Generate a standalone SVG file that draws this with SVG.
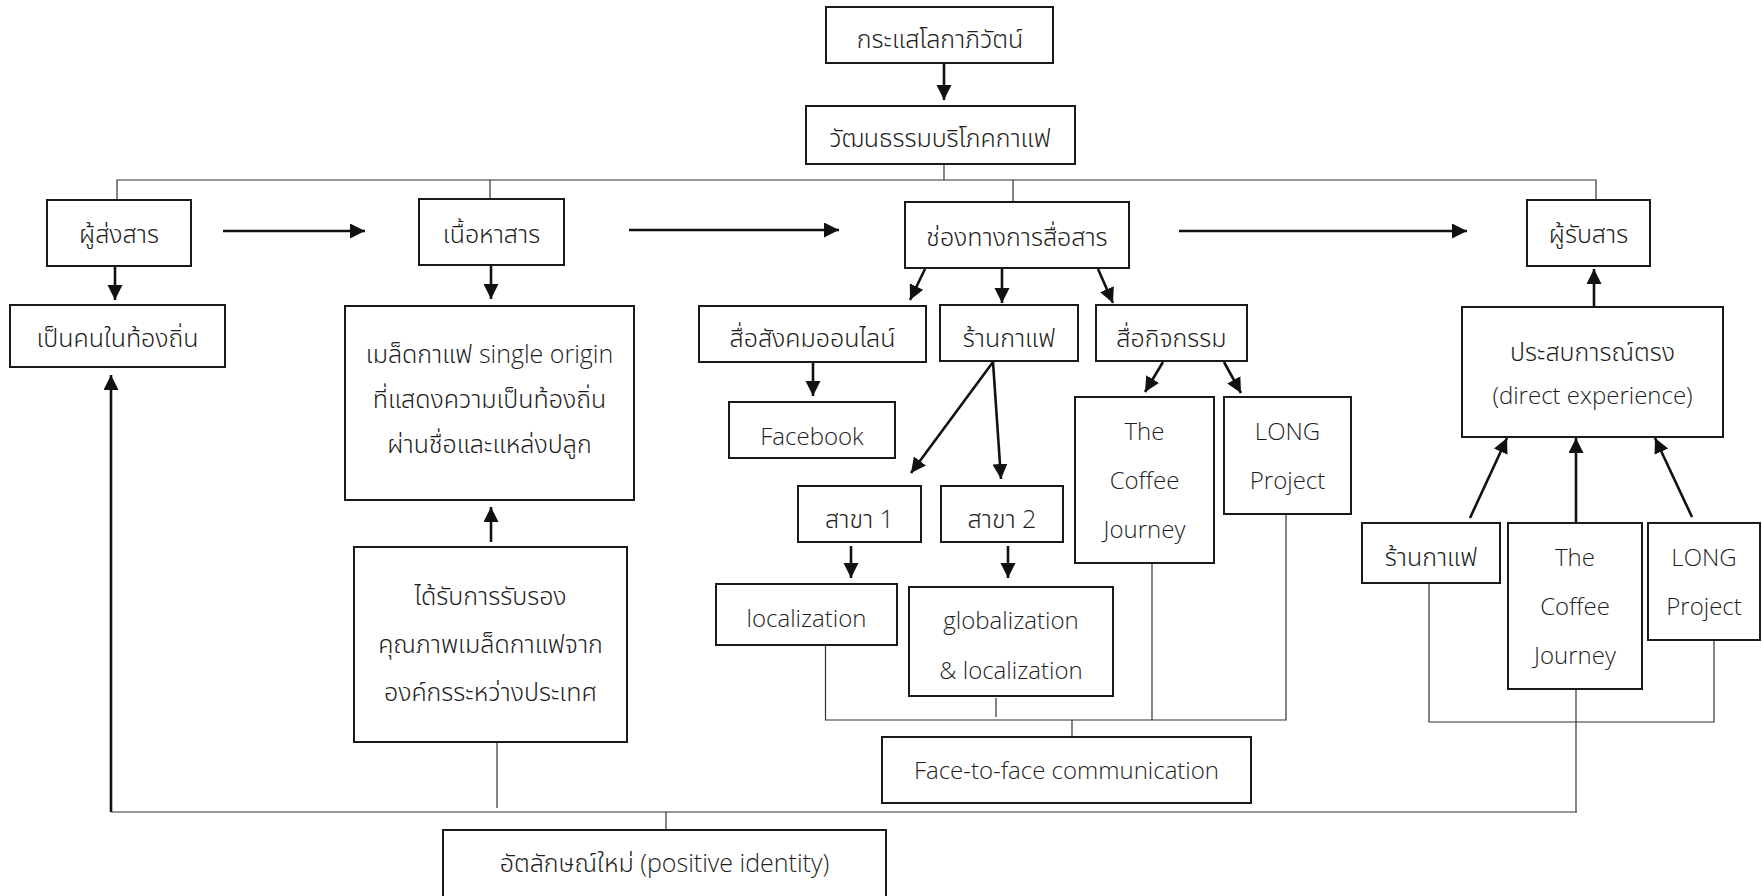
<svg xmlns="http://www.w3.org/2000/svg" width="1762" height="896" viewBox="0 0 1762 896">
<style>
.box{fill:#fff;stroke:#1a1a1a;stroke-width:2}
.t{font-family:"Open Sans","Noto Sans","Noto Sans Thai",sans-serif;font-size:24px;font-weight:300;fill:#1e1e1e;text-anchor:middle}
.th{font-size:25px}
.ln{stroke:#333;stroke-width:1.2;fill:none}
.ar{stroke:#111;stroke-width:2.6;fill:none;marker-end:url(#ah)}
</style>
<defs>
<marker id="ah" markerUnits="userSpaceOnUse" markerWidth="16" markerHeight="16" refX="15" refY="7.5" orient="auto">
<path d="M0,0 L15,7.5 L0,15 z" fill="#111"/>
</marker>
</defs>
<rect width="1762" height="896" fill="#fff"/>
<g id="connectors">
<line class="ar" x1="944" y1="63" x2="944" y2="100"/>
<line class="ln" x1="944" y1="164" x2="944" y2="180"/>
<polyline class="ln" points="117,200 117,180 1596,180 1596,200"/>
<line class="ln" x1="490" y1="180" x2="490" y2="199"/>
<line class="ln" x1="1013" y1="180" x2="1013" y2="202"/>
<line class="ar" x1="223" y1="231" x2="365" y2="231"/>
<line class="ar" x1="629" y1="230" x2="839" y2="230"/>
<line class="ar" x1="1179" y1="231" x2="1467" y2="231"/>
<line class="ar" x1="115" y1="266" x2="115" y2="300"/>
<line class="ar" x1="491" y1="265" x2="491" y2="299"/>
<line class="ar" x1="925" y1="269" x2="910" y2="300"/>
<line class="ar" x1="1002" y1="269" x2="1002" y2="303"/>
<line class="ar" x1="1098" y1="269" x2="1113" y2="303"/>
<line class="ar" x1="813" y1="362" x2="813" y2="396"/>
<line class="ar" x1="993" y1="362" x2="911" y2="473"/>
<line class="ar" x1="993" y1="362" x2="1001" y2="479"/>
<line class="ar" x1="851" y1="546" x2="851" y2="578"/>
<line class="ar" x1="1008" y1="546" x2="1008" y2="578"/>
<line class="ar" x1="1163" y1="362" x2="1145" y2="392"/>
<line class="ar" x1="1224" y1="362" x2="1241" y2="393"/>
<line class="ar" x1="1594" y1="307" x2="1594" y2="269"/>
<line class="ar" x1="1470" y1="518" x2="1507" y2="438"/>
<line class="ar" x1="1576" y1="522" x2="1576" y2="438"/>
<line class="ar" x1="1692" y1="517" x2="1655" y2="438"/>
<line class="ar" x1="491" y1="542" x2="491" y2="507"/>
<line class="ar" x1="111" y1="812" x2="111" y2="375"/>
<line class="ln" x1="111" y1="812" x2="1577" y2="812"/>
<line class="ln" x1="497" y1="742" x2="497" y2="808"/>
<line class="ln" x1="666" y1="812" x2="666" y2="830"/>
<polyline class="ln" points="825.5,645 825.5,720 1286,720 1286,514"/>
<line class="ln" x1="996" y1="698" x2="996" y2="717"/>
<line class="ln" x1="1152" y1="563" x2="1152" y2="720"/>
<line class="ln" x1="1072" y1="720" x2="1072" y2="737"/>
<polyline class="ln" points="1429,583 1429,722 1714,722 1714,640"/>
<line class="ln" x1="1576" y1="689" x2="1576" y2="812"/>
</g>
<g id="n-globalization-trend"><rect class="box" x="826" y="7" width="227" height="56"/><text class="t th" x="940" y="48">กระแสโลกาภิวัตน์</text></g>
<g id="n-coffee-culture"><rect class="box" x="806" y="106" width="269" height="58"/><text class="t th" x="940" y="147">วัฒนธรรมบริโภคกาแฟ</text></g>
<g id="n-sender"><rect class="box" x="47" y="200" width="144" height="66"/><text class="t th" x="119" y="243">ผู้ส่งสาร</text></g>
<g id="n-message"><rect class="box" x="419" y="199" width="145" height="66"/><text class="t th" x="491.5" y="243">เนื้อหาสาร</text></g>
<g id="n-channel"><rect class="box" x="905" y="202" width="224" height="66"/><text class="t th" x="1017" y="246">ช่องทางการสื่อสาร</text></g>
<g id="n-receiver"><rect class="box" x="1527" y="200" width="123" height="66"/><text class="t th" x="1588.5" y="243">ผู้รับสาร</text></g>
<g id="n-local-person"><rect class="box" x="10" y="305" width="215" height="62"/><text class="t th" x="117.5" y="347">เป็นคนในท้องถิ่น</text></g>
<g id="n-single-origin"><rect class="box" x="345" y="306" width="289" height="194"/>
<text class="t th" x="489.5" y="363">เมล็ดกาแฟ single origin</text>
<text class="t th" x="489.5" y="408">ที่แสดงความเป็นท้องถิ่น</text>
<text class="t th" x="489.5" y="453">ผ่านชื่อและแหล่งปลูก</text></g>
<g id="n-certified"><rect class="box" x="354" y="547" width="273" height="195"/>
<text class="t th" x="490.5" y="605">ได้รับการรับรอง</text>
<text class="t th" x="490.5" y="653">คุณภาพเมล็ดกาแฟจาก</text>
<text class="t th" x="490.5" y="701">องค์กรระหว่างประเทศ</text></g>
<g id="n-social-media"><rect class="box" x="699" y="306" width="227" height="56"/><text class="t th" x="812.5" y="347">สื่อสังคมออนไลน์</text></g>
<g id="n-coffee-shop"><rect class="box" x="940" y="305" width="138" height="56"/><text class="t th" x="1009" y="347">ร้านกาแฟ</text></g>
<g id="n-activity-media"><rect class="box" x="1096" y="305" width="151" height="56"/><text class="t th" x="1171.5" y="347">สื่อกิจกรรม</text></g>
<g id="n-facebook"><rect class="box" x="729" y="402" width="166" height="56"/><text class="t" x="812" y="445">Facebook</text></g>
<g id="n-branch1"><rect class="box" x="798" y="486" width="123" height="56"/><text class="t th" x="859.5" y="528">สาขา 1</text></g>
<g id="n-branch2"><rect class="box" x="941" y="486" width="122" height="56"/><text class="t th" x="1002" y="528">สาขา 2</text></g>
<g id="n-localization"><rect class="box" x="716" y="584" width="181" height="61"/><text class="t" x="806.5" y="627">localization</text></g>
<g id="n-glocal"><rect class="box" x="909" y="587" width="204" height="109"/>
<text class="t" x="1011" y="629">globalization</text>
<text class="t" x="1011" y="679">&amp; localization</text></g>
<g id="n-coffee-journey"><rect class="box" x="1075" y="397" width="139" height="166"/>
<text class="t" x="1144.5" y="440">The</text>
<text class="t" x="1144.5" y="489">Coffee</text>
<text class="t" x="1144.5" y="538">Journey</text></g>
<g id="n-long-project"><rect class="box" x="1224" y="397" width="127" height="117"/>
<text class="t" x="1287.5" y="440">LONG</text>
<text class="t" x="1287.5" y="489">Project</text></g>
<g id="n-face-to-face"><rect class="box" x="882" y="737" width="369" height="66"/><text class="t" x="1066.5" y="779">Face-to-face communication</text></g>
<g id="n-new-identity"><rect class="box" x="443" y="830" width="443" height="72"/><text class="t th" x="664.5" y="872">อัตลักษณ์ใหม่ (positive identity)</text></g>
<g id="n-direct-experience"><rect class="box" x="1462" y="307" width="261" height="130"/>
<text class="t th" x="1592.5" y="361">ประสบการณ์ตรง</text>
<text class="t" x="1592.5" y="404">(direct experience)</text></g>
<g id="n-coffee-shop-r"><rect class="box" x="1362" y="523" width="138" height="60"/><text class="t th" x="1431" y="566">ร้านกาแฟ</text></g>
<g id="n-coffee-journey-r"><rect class="box" x="1508" y="523" width="134" height="166"/>
<text class="t" x="1575" y="566">The</text>
<text class="t" x="1575" y="615">Coffee</text>
<text class="t" x="1575" y="664">Journey</text></g>
<g id="n-long-project-r"><rect class="box" x="1648" y="523" width="112" height="117"/>
<text class="t" x="1704" y="566">LONG</text>
<text class="t" x="1704" y="615">Project</text></g>
</svg>
